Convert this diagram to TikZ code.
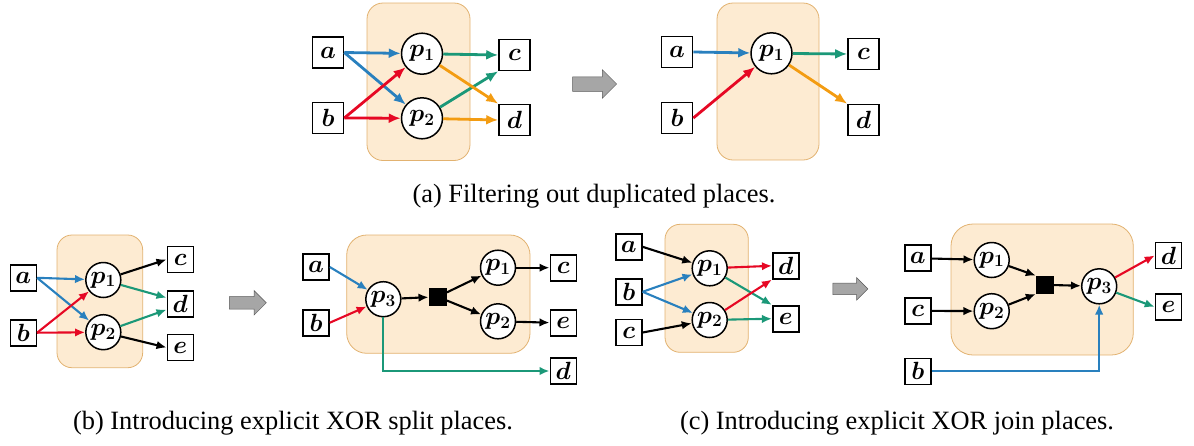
\documentclass[tikz,border=0pt]{standalone}
\usepackage{fontspec}
\setmainfont{Liberation Serif}
\usetikzlibrary{arrows.meta,shapes.arrows}
\definecolor{regfill}{RGB}{253,235,210}
\definecolor{regline}{RGB}{226,178,112}
\definecolor{eblue}{RGB}{41,128,190}
\definecolor{ered}{RGB}{230,8,36}
\definecolor{egreen}{RGB}{27,152,120}
\definecolor{eorange}{RGB}{243,156,18}
\definecolor{garrow}{RGB}{166,166,166}

\begin{document}
\begin{tikzpicture}[x=1pt,y=-1pt]
		\tikzstyle{trans} = [draw,rectangle,line width=1.6pt,fill=white,inner sep=0pt,minimum size=26pt,font=\fontsize{23}{23}\selectfont\boldmath];
		\tikzstyle{place} = [draw,circle,line width=1.5pt,fill=white,inner sep=0pt,minimum size=35pt,font=\fontsize{23}{23}\selectfont\boldmath];
		\tikzstyle{big} = [minimum size=31pt,font=\fontsize{27}{27}\selectfont\boldmath];
		\tikzstyle{bigplace} = [minimum size=41pt,font=\fontsize{27}{27}\selectfont\boldmath];
		\tikzstyle{bar} = [fill=black,rectangle,inner sep=0pt,minimum size=18pt];
		\tikzstyle{region} = [fill=regfill,draw=regline,line width=0.8pt,rounded corners=16pt];
		\tikzstyle{grey} = [single arrow,fill=garrow,draw=gray!70!black,line width=0.5pt,inner xsep=0pt];
		\tikzstyle{captxt} = [anchor=base,inner sep=0pt,font=\fontsize{26.4}{30}\selectfont];
		\tikzstyle{flow} = [->,>={Latex[length=12pt,width=10pt]},line width=2.8pt];
		\tikzstyle{flowsm} = [->,>={Latex[length=10pt,width=8.5pt]},line width=2.1pt];
		
		\useasboundingbox (0,0) rectangle (1194,445);
		
		% regions
		\draw[region] (367,3) rectangle (470,160.5);
		\draw[region] (717,3) rectangle (819,160);
		\draw[region,rounded corners=15pt] (57,235) rectangle (142.7,367.7);
		\draw[region,rounded corners=20pt] (346.7,235) rectangle (530,353.3);
		\draw[region,rounded corners=15pt] (665,224.3) rectangle (748.3,352.3);
		\draw[region,rounded corners=22pt] (951,224) rectangle (1133.3,355);
		
		% (a) before
		\node[trans,big] (ua) at (328,52.5) {$a$};
		\node[trans,big] (ub) at (328,118) {$b$};
		\node[place,bigplace] (up1) at (422,53.7) {$p_1$};
		\node[place,bigplace] (up2) at (422,118.3) {$p_2$};
		\node[trans,big] (uc) at (514.5,55) {$c$};
		\node[trans,big] (ud) at (514.5,120) {$d$};
		\draw[flow,eblue] (ua.east) -- (up1);
		\draw[flow,eblue] (ua.east) -- (up2);
		\draw[flow,ered] (ub.east) -- (up1);
		\draw[flow,ered] (ub.east) -- (up2);
		\draw[flow,egreen] (up1) -- (uc.west);
		\draw[flow,egreen] (up2) -- (uc.south west);
		\draw[flow,eorange] (up1) -- (ud.north west);
		\draw[flow,eorange] (up2) -- (ud.west);
		
		\node[grey,minimum height=44pt,inner ysep=7pt,single arrow head extend=7pt] (ga) at (591,84) {};
		
		% (a) after
		\node[trans,big] (va) at (677,52) {$a$};
		\node[trans,big] (vb) at (677,118) {$b$};
		\node[place,bigplace] (vp1) at (771.5,53.3) {$p_1$};
		\node[trans,big] (vc) at (863.5,54) {$c$};
		\node[trans,big] (vd) at (863.5,120) {$d$};
		\draw[flow,eblue] (va.east) -- (vp1);
		\draw[flow,ered] (vb.east) -- (vp1);
		\draw[flow,egreen] (vp1) -- (vc.west);
		\draw[flow,eorange] (vp1) -- (vd.north west);
		
		\node[captxt] (capa) at (594,202) {(a) Filtering out duplicated places.};
		
		% (b) before
		\node[trans] (wa) at (23.3,277.8) {$a$};
		\node[trans] (wb) at (23.3,332.7) {$b$};
		\node[place] (wp1) at (103.3,280) {$p_1$};
		\node[place] (wp2) at (103.3,332.2) {$p_2$};
		\node[trans] (wc) at (180.3,259.5) {$c$};
		\node[trans] (wd) at (180.3,303.7) {$d$};
		\node[trans] (we) at (180.3,347.5) {$e$};
		\draw[flowsm,eblue] (wa.east) -- (wp1);
		\draw[flowsm,eblue] (wa.east) -- (wp2);
		\draw[flowsm,ered] (wb.east) -- (wp1);
		\draw[flowsm,ered] (wb.east) -- (wp2);
		\draw[flowsm] (wp1) -- (wc.west);
		\draw[flowsm,egreen] (wp1) -- ([yshift=6pt]wd.west);
		\draw[flowsm,egreen] (wp2) -- ([yshift=-6pt]wd.west);
		\draw[flowsm] (wp2) -- (we.west);
		
		\node[grey,minimum height=37pt,inner ysep=6pt,single arrow head extend=6pt] (gb) at (244.7,302.8) {};
		
		% (b) after
		\node[trans] (xa) at (316,267) {$a$};
		\node[trans] (xb) at (316,322.7) {$b$};
		\node[place] (xp3) at (383.3,299.2) {$p_3$};
		\node[bar] (xs) at (437.7,296.8) {};
		\node[place] (xp1) at (498,267.7) {$p_1$};
		\node[place] (xp2) at (498,321.3) {$p_2$};
		\node[trans] (xc) at (563.3,267.7) {$c$};
		\node[trans] (xe) at (563.3,323) {$e$};
		\node[trans] (xd) at (563.3,371) {$d$};
		\draw[flowsm,eblue] (xa.east) -- (xp3);
		\draw[flowsm,ered] (xb.east) -- (xp3);
		\draw[flowsm] (xp3) -- (xs);
		\draw[flowsm] (xs) -- (xp1);
		\draw[flowsm] (xs) -- (xp2);
		\draw[flowsm] (xp1) -- (xc);
		\draw[flowsm] (xp2) -- (xe);
		\draw[flowsm,egreen] (xp3) |- (xd);
		
		\node[captxt] (capb) at (293,429.5) {(b) Introducing explicit XOR split places.};
		
		% (c) before
		\node[trans] (ya) at (628.8,246.8) {$a$};
		\node[trans] (yb) at (628.8,291.8) {$b$};
		\node[trans] (yc) at (628.8,332.5) {$c$};
		\node[place] (yp1) at (709.7,268.3) {$p_1$};
		\node[place] (yp2) at (709.7,320) {$p_2$};
		\node[trans] (yd) at (785.7,265.8) {$d$};
		\node[trans] (ye) at (785.7,318.7) {$e$};
		\draw[flowsm] (ya.east) -- (yp1);
		\draw[flowsm,eblue] (yb.east) -- (yp1);
		\draw[flowsm,eblue] (yb.east) -- (yp2);
		\draw[flowsm] (yc.east) -- (yp2);
		\draw[flowsm,ered] (yp1) -- (yd.west);
		\draw[flowsm,egreen] (yp1) -- (ye.north west);
		\draw[flowsm,ered] (yp2) -- (yd.south west);
		\draw[flowsm,egreen] (yp2) -- (ye.west);
		
		\node[grey,minimum height=35pt,inner ysep=5.5pt,single arrow head extend=5.5pt] (gc) at (847.5,288.8) {};
		
		% (c) after
		\node[trans] (za) at (917.8,258.2) {$a$};
		\node[trans] (zc) at (917.8,310.8) {$c$};
		\node[trans] (zb) at (917.8,371.3) {$b$};
		\node[place] (zp1) at (991.7,260) {$p_1$};
		\node[place] (zp2) at (991.7,311.2) {$p_2$};
		\node[bar] (zs) at (1045,284.8) {};
		\node[place] (zp3) at (1099.2,286.3) {$p_3$};
		\node[trans] (zd) at (1168.5,255.5) {$d$};
		\node[trans] (ze) at (1168.5,307) {$e$};
		\draw[flowsm] (za) -- (zp1);
		\draw[flowsm] (zc) -- (zp2);
		\draw[flowsm] (zp1) -- (zs.north west);
		\draw[flowsm] (zp2) -- (zs.south west);
		\draw[flowsm] (zs) -- (zp3);
		\draw[flowsm,ered] (zp3) -- (zd.west);
		\draw[flowsm,egreen] (zp3) -- (ze.west);
		\draw[flowsm,eblue] (zb) -| (zp3);
		
		\node[captxt] (capc) at (897,429.5) {(c) Introducing explicit XOR join places.};
		
	\end{tikzpicture}
\end{document}
